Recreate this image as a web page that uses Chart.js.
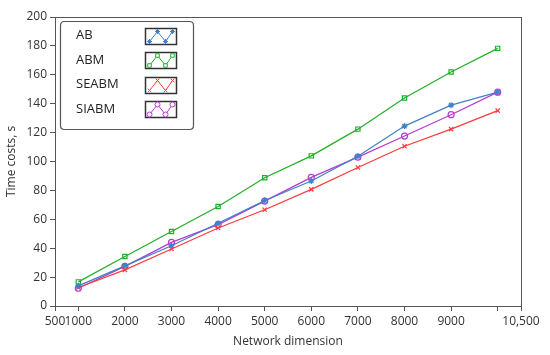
<!DOCTYPE html>
<html>
<head>
<meta charset="utf-8">
<script src="https://cdn.jsdelivr.net/npm/chart.js@4/dist/chart.umd.min.js"></script>
<style>
  html, body { margin: 0; padding: 0; background: #fff; }
  #wrap { width: 550px; height: 355px; position: relative; }
</style>
</head>
<body>
<div id="wrap"><canvas id="graph_cost"></canvas></div>
<script>
// data
var dimensions = [1000, 2000, 3000, 4000, 5000, 6000, 7000, 8000, 9000, 10000];
var abValues = [13.9, 27.8, 41.7, 57.3, 73, 86.5, 103.6, 124.5, 139, 148];
var abmValues = [16.7, 34.3, 51.5, 68.9, 88.8, 103.9, 122.4, 144, 162, 178.3];
var seabmValues = [12.8, 25, 39.4, 54, 66.6, 80.7, 95.8, 110.6, 122.4, 135.2];
var siabmValues = [12.3, 27.4, 44, 56.3, 72.6, 89, 103, 117.6, 132.4, 148];
var xTicks = [500, 1000, 2000, 3000, 4000, 5000, 6000, 7000, 8000, 9000, 10000, 10500];
var yTicks = [0, 20, 40, 60, 80, 100, 120, 140, 160, 180, 200];

var FONT = '"Open Sans", "Noto Sans", sans-serif';

function makeSeries(label, values, color, style) {
    return {
        label: label,
        data: dimensions.map(function (d, i) { return { x: d, y: values[i] }; }),
        borderColor: color,
        backgroundColor: 'rgba(0,0,0,0)',
        borderWidth: 1.2,
        pointStyle: style,
        pointRadius: 3,
        pointBorderWidth: 1.2,
        pointBorderColor: color,
        tension: 0
    };
}

// frame round the plot area
var framePlugin = {
    id: 'frame',
    afterDraw: function (chart) {
        var a = chart.chartArea, ctx = chart.ctx;
        ctx.save();
        ctx.strokeStyle = '#555';
        ctx.lineWidth = 1;
        ctx.strokeRect(Math.round(a.left) + 0.5, Math.round(a.top) + 0.5,
            Math.round(a.right - a.left), Math.round(a.bottom - a.top));
        ctx.restore();
    }
};

// legend box with zigzag samples, like the original plot
var legendPlugin = {
    id: 'boxLegend',
    afterDraw: function (chart) {
        var ctx = chart.ctx;
        var bx = 60.5, by = 21.5, bw = 133, bh = 108, r = 4;
        ctx.save();
        ctx.fillStyle = '#fff';
        ctx.strokeStyle = '#555';
        ctx.lineWidth = 1.2;
        ctx.beginPath();
        ctx.moveTo(bx + r, by);
        ctx.lineTo(bx + bw - r, by);
        ctx.quadraticCurveTo(bx + bw, by, bx + bw, by + r);
        ctx.lineTo(bx + bw, by + bh - r);
        ctx.quadraticCurveTo(bx + bw, by + bh, bx + bw - r, by + bh);
        ctx.lineTo(bx + r, by + bh);
        ctx.quadraticCurveTo(bx, by + bh, bx, by + bh - r);
        ctx.lineTo(bx, by + r);
        ctx.quadraticCurveTo(bx, by, bx + r, by);
        ctx.closePath();
        ctx.fill();
        ctx.stroke();

        chart.data.datasets.forEach(function (ds, i) {
            var cy = 35.5 + i * 24.5;
            ctx.fillStyle = '#222';
            ctx.font = '13px ' + FONT;
            ctx.textAlign = 'left';
            ctx.textBaseline = 'middle';
            ctx.fillText(ds.label, 76, cy);

            var sx = 145.5, sy = Math.round(cy - 8) + 0.5, sw = 31, sh = 16;
            ctx.strokeStyle = '#333';
            ctx.lineWidth = 1.5;
            ctx.strokeRect(sx, sy, sw, sh);

            var pts = [[sx + 4, sy + 13], [sx + 12, sy + 3], [sx + 20, sy + 13], [sx + 27, sy + 3]];
            ctx.strokeStyle = ds.borderColor;
            ctx.lineWidth = 1;
            ctx.beginPath();
            pts.forEach(function (p, k) {
                if (k === 0) ctx.moveTo(p[0], p[1]); else ctx.lineTo(p[0], p[1]);
            });
            ctx.stroke();
            pts.forEach(function (p) {
                ctx.fillStyle = '#fff';
                ctx.strokeStyle = ds.borderColor;
                ctx.lineWidth = 1;
                Chart.helpers.drawPoint(ctx, {
                    pointStyle: ds.pointStyle,
                    radius: 2.5,
                    borderWidth: 1,
                    rotation: 0
                }, p[0], p[1]);
            });
        });
        ctx.restore();
    }
};

var ctx = document.getElementById('graph_cost').getContext('2d');
var costChart = new Chart(ctx, {
    type: 'line',
    data: {
        datasets: [
            makeSeries('AB', abValues, '#3d82c4', 'star'),
            makeSeries('ABM', abmValues, '#24ad2a', 'rect'),
            makeSeries('SEABM', seabmValues, '#ff3b3b', 'crossRot'),
            makeSeries('SIABM', siabmValues, '#b43ad2', 'circle')
        ]
    },
    options: {
        responsive: true,
        maintainAspectRatio: false,
        animation: false,
        layout: { padding: { left: 0, top: 17, right: 29, bottom: 0 } },
        plugins: {
            legend: { display: false },
            tooltip: { enabled: false }
        },
        scales: {
            x: {
                type: 'linear',
                min: 500,
                max: 10500,
                afterBuildTicks: function (scale) {
                    scale.ticks = xTicks.map(function (v) { return { value: v }; });
                },
                afterFit: function (scale) { scale.height = 49; },
                grid: {
                    drawOnChartArea: false,
                    drawTicks: true,
                    tickLength: 5,
                    color: '#555',
                    tickColor: '#555'
                },
                border: { display: false },
                ticks: {
                    autoSkip: false,
                    maxRotation: 0,
                    padding: 3,
                    color: '#333',
                    font: { family: FONT, size: 12 },
                    callback: function (v) {
                        if (v === 10000) return '';
                        if (v === 10500) return '10,500';
                        return String(v);
                    }
                },
                title: {
                    display: true,
                    text: 'Network dimension',
                    color: '#333',
                    font: { family: FONT, size: 12 },
                    padding: { top: 0, bottom: 6 }
                }
            },
            y: {
                type: 'linear',
                min: 0,
                max: 200,
                afterBuildTicks: function (scale) {
                    scale.ticks = yTicks.map(function (v) { return { value: v }; });
                },
                afterFit: function (scale) { scale.width = 55; },
                grid: {
                    drawOnChartArea: false,
                    drawTicks: true,
                    tickLength: 5,
                    color: '#555',
                    tickColor: '#555'
                },
                border: { display: false },
                ticks: {
                    padding: 3,
                    color: '#333',
                    font: { family: FONT, size: 12 }
                },
                title: {
                    display: true,
                    text: 'Time costs, s',
                    color: '#333',
                    font: { family: FONT, size: 12 },
                    padding: { top: 4, bottom: 2 }
                }
            }
        }
    },
    plugins: [framePlugin, legendPlugin]
});
</script>
</body>
</html>
